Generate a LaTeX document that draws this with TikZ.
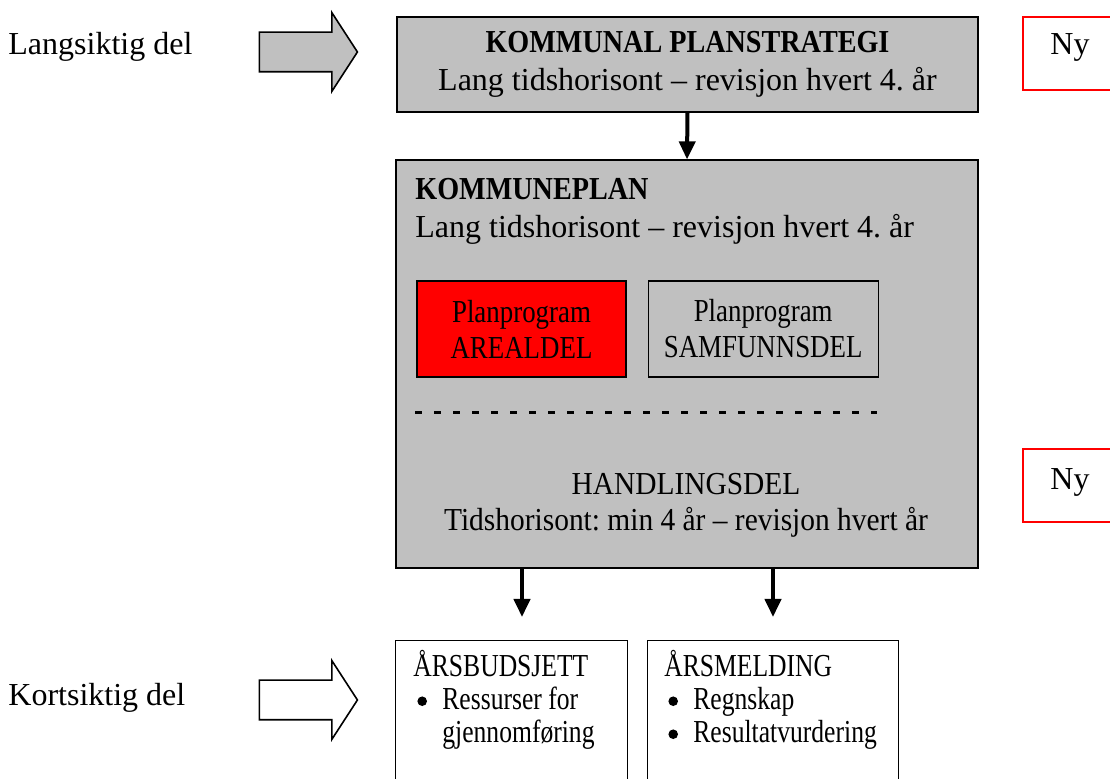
\documentclass[tikz,border=0pt]{standalone}
\usepackage{fontspec}
\setmainfont{Liberation Serif}
\newfontfamily\fetfont[Ligatures=TeX, FakeStretch=0.88]{Liberation Serif}
\newfontfamily\midtfont[Ligatures=TeX, FakeStretch=0.92]{Liberation Serif}
\newfontfamily\smalfont[Ligatures=TeX, FakeStretch=0.84]{Liberation Serif}
\newfontfamily\listefont[Ligatures=TeX, FakeStretch=0.8]{Liberation Serif}
\usetikzlibrary{positioning}
\usetikzlibrary{shapes.arrows}
\usetikzlibrary{arrows.meta}
\definecolor{boxgray}{RGB}{192,192,192}
\newcommand{\punkt}{\makebox[14.5pt][l]{\hspace{2pt}\tikz[baseline=0pt]\fill[black] (2.4pt,4.2pt) circle[radius=2.4pt];}}
\frenchspacing

\begin{document}
\begin{tikzpicture}[x=0.5pt, y=-0.5pt,
    every node/.style={font=\fontsize{16}{19}\selectfont},
    planbox/.style={rectangle, draw=black, line width=0.6pt, fill=boxgray, inner sep=0pt},
    subbox/.style={rectangle, draw=black, line width=0.6pt, inner sep=0pt,
                   minimum height=48pt, align=center, font=\fontsize{16}{18}\smalfont},
    nybox/.style={rectangle, draw=red, line width=0.8pt, inner sep=0pt,
                  minimum width=49pt, minimum height=36.5pt},
    blockpil/.style={single arrow, draw=black, line width=0.8pt, inner xsep=0pt, inner ysep=9.5pt,
                     minimum height=49pt,
                     single arrow head extend=9.75pt, single arrow tip angle=114},
    listetekst/.style={anchor=north west, align=left, inner sep=0pt,
                       font=\fontsize{16}{16.5}\listefont},
    pil/.style={line width=2pt, -{Triangle[width=8pt, length=9pt]}}]
    \useasboundingbox (0,0) rectangle (1110,779);

    % Main boxes
    \node[planbox, minimum width=290.5pt, minimum height=47.5pt, align=center] (strategi) at (687.5,64.5)
      {{\fetfont\bfseries KOMMUNAL PLANSTRATEGI}\\Lang tidshorisont -- revisjon hvert 4. år};
    \node[planbox, minimum width=291pt, minimum height=204pt] (kplan) at (687,364) {};
    \node[anchor=north west, align=left, inner sep=0pt] (kplantekst) at (415,178)
      {{\fetfont\bfseries KOMMUNEPLAN}\\Lang tidshorisont -- revisjon hvert 4. år};

    % Planprogram
    \node[subbox, fill=red, minimum width=104.5pt] (areal) at (521.5,329)
      {Planprogram\\AREALDEL};
    \node[subbox, fill=boxgray, minimum width=115pt, right=10.5pt of areal] (samfunn)
      {Planprogram\\SAMFUNNSDEL};
    \coordinate (skille1) at (415,413);
    \coordinate (skille2) at (877,413);
    \draw[line width=1.5pt, dash pattern=on 3.5pt off 6pt] (skille1) -- (skille2);

    \node[align=center, inner sep=0pt, font=\fontsize{16}{18}\midtfont] (handling) at (686,505)
      {HANDLINGSDEL\\Tidshorisont: min 4 år -- revisjon hvert år};

    % Annual boxes
    \node[rectangle, draw=black, line width=0.6pt, minimum width=116pt, minimum height=80pt,
          anchor=north west] (budsjett) at (395,640) {};
    \node[rectangle, draw=black, line width=0.6pt, minimum width=125.5pt, minimum height=80pt,
          anchor=north west] (melding) at (647,640) {};
    \node[listetekst] (budsjetttekst) at (413,650)
      {ÅRSBUDSJETT\\\punkt Ressurser for\\\hspace*{14.5pt}gjennomføring};
    \node[listetekst] (meldingtekst) at (664,650)
      {ÅRSMELDING\\\punkt Regnskap\\\punkt Resultatvurdering};

    % Arrows
    \coordinate (b1) at (522,568);
    \coordinate (b2) at (773,568);
    \coordinate (e1) at (522,617);
    \coordinate (e2) at (773,617);
    \draw[pil] (strategi.south) -- (kplan.north);
    \draw[pil] (b1) -- (e1);
    \draw[pil] (b2) -- (e2);

    % Labels on the left
    \node[anchor=west, inner sep=0pt] (lang) at (8,47) {Langsiktig del};
    \node[anchor=west, inner sep=0pt] (kort) at (8,698) {Kortsiktig del};
    \node[blockpil, fill=boxgray] (langpil) at (302,52) {};
    \node[blockpil, fill=white] (kortpil) at (302,700) {};

    % New
    \node[nybox, anchor=north west] (ny1) at (1022,16) {};
    \node at (1070,47) (ny1tekst) {Ny};
    \node[nybox, anchor=north west] (ny2) at (1022,448) {};
    \node at (1070,482) (ny2tekst) {Ny};
\end{tikzpicture}
\end{document}
